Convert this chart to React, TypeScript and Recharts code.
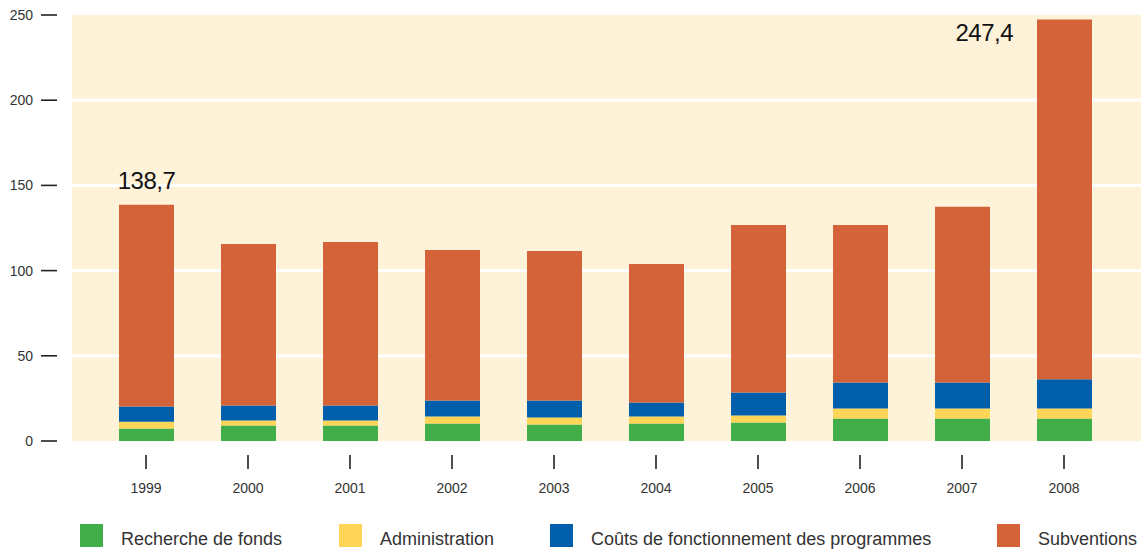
import React from 'react';
import { BarChart, Bar, XAxis, YAxis, CartesianGrid, Legend, LabelList } from 'recharts';

const years = ['1999', '2000', '2001', '2002', '2003', '2004', '2005', '2006', '2007', '2008'];
const fundraising = [7.4, 9.1, 9.1, 10.3, 9.7, 10.3, 10.9, 13.2, 13.2, 13.2];
const administration = [3.9, 3.0, 3.0, 4.1, 4.1, 4.1, 4.1, 5.9, 5.9, 5.9];
const programCosts = [9.0, 8.8, 8.8, 9.4, 10.0, 8.2, 13.5, 15.3, 15.3, 17.1];
const grants = [118.4, 94.7, 95.9, 88.3, 87.7, 81.2, 98.3, 92.4, 103.0, 211.2];
const totalLabels = ['138,7', '', '', '', '', '', '', '', '', '247,4'];
const yTicks = [0, 50, 100, 150, 200, 250];
const gridValues = [50, 100, 150, 200];

const seriesNames = ['Recherche de fonds', 'Administration', 'Coûts de fonctionnement des programmes', 'Subventions'];
const seriesColors = ['#41AE4A', '#FFD557', '#005EAA', '#D4633A'];
const legendLeft = [80, 339, 550, 997];

const data = years.map((year, i) => ({
  year,
  fundraising: fundraising[i],
  administration: administration[i],
  programCosts: programCosts[i],
  grants: grants[i],
  label: totalLabels[i],
}));

const FONT = "'Liberation Sans', Arial, Helvetica, sans-serif";

const XTick = (props: any) => {
  const { x, y, payload } = props;
  return (
    <g>
      <line x1={x} x2={x} y1={y} y2={y + 14} stroke="#222" strokeWidth={1.6} />
      <text x={x} y={y + 38} textAnchor="middle" fontSize={14} fill="#333" fontFamily={FONT}>
        {payload.value}
      </text>
    </g>
  );
};

const YTick = (props: any) => {
  const { x, y, payload } = props;
  return (
    <g>
      <line x1={x - 16} x2={x} y1={y} y2={y} stroke="#222" strokeWidth={1.6} />
      <text x={x - 24} y={y + 5} textAnchor="end" fontSize={14} fill="#333" fontFamily={FONT}>
        {payload.value}
      </text>
    </g>
  );
};

const TotalLabel = (props: any) => {
  const { x, y, width, value, index } = props;
  if (!value) return null;
  if (index === years.length - 1) {
    return (
      <text x={x - 24} y={y + 22} textAnchor="end" fontSize={24} letterSpacing={-0.5} fill="#111" fontFamily={FONT}>
        {value}
      </text>
    );
  }
  return (
    <text x={x + width / 2} y={y - 16} textAnchor="middle" fontSize={24} letterSpacing={-0.5} fill="#111" fontFamily={FONT}>
      {value}
    </text>
  );
};

const LegendContent = () => (
  <div style={{ position: 'relative', width: 1141, height: 33, fontFamily: FONT }}>
    {seriesNames.map((name, i) => (
      <div
        key={name}
        style={{ position: 'absolute', left: legendLeft[i], top: 4, display: 'flex', alignItems: 'center' }}
      >
        <div style={{ width: 23, height: 23, background: seriesColors[i] }} />
        <span
          style={{
            marginLeft: 18,
            fontSize: 18,
            color: '#333',
            whiteSpace: 'nowrap',
            position: 'relative',
            top: 4,
          }}
        >
          {name}
        </span>
      </div>
    ))}
  </div>
);

export default function App() {
  return (
    <div style={{ position: 'absolute', left: 0, top: 0, width: 1141, height: 553, background: '#fff' }}>
      <BarChart
        width={1141}
        height={553}
        data={data}
        margin={{ top: 15, right: 0, left: 0, bottom: 0 }}
        barSize={55}
      >
        <CartesianGrid
          fill="#FEF2D9"
          stroke="#FFFFFF"
          strokeWidth={3}
          vertical={false}
          horizontalValues={gridValues}
        />
        <XAxis
          dataKey="year"
          height={112}
          tickSize={0}
          tickMargin={14}
          axisLine={false}
          tickLine={false}
          padding={{ left: 23, right: 26 }}
          tick={<XTick />}
          interval={0}
        />
        <YAxis
          width={72}
          domain={[0, 250]}
          ticks={yTicks}
          tickSize={0}
          tickMargin={15}
          axisLine={false}
          tickLine={false}
          tick={<YTick />}
          interval={0}
        />
        <Legend
          layout="vertical"
          align="center"
          verticalAlign="middle"
          wrapperStyle={{ position: 'absolute', left: 0, top: 520, width: 1141, height: 33 }}
          content={<LegendContent />}
        />
        <Bar dataKey="fundraising" name={seriesNames[0]} stackId="a" fill={seriesColors[0]} isAnimationActive={false} />
        <Bar dataKey="administration" name={seriesNames[1]} stackId="a" fill={seriesColors[1]} isAnimationActive={false} />
        <Bar dataKey="programCosts" name={seriesNames[2]} stackId="a" fill={seriesColors[2]} isAnimationActive={false} />
        <Bar dataKey="grants" name={seriesNames[3]} stackId="a" fill={seriesColors[3]} isAnimationActive={false}>
          <LabelList dataKey="label" content={<TotalLabel />} />
        </Bar>
      </BarChart>
    </div>
  );
}
